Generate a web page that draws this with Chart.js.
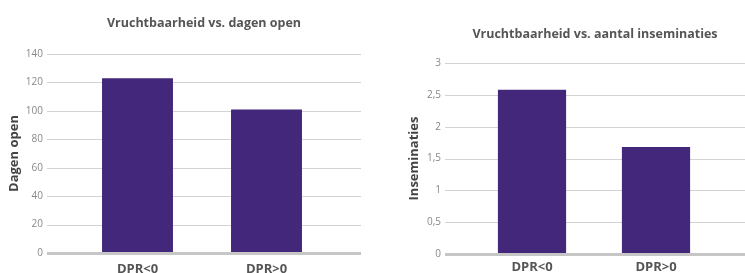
<!DOCTYPE html>
<html>
<head>
<meta charset="utf-8">
<script src="https://cdn.jsdelivr.net/npm/chart.js@4"></script>
<style>
    html, body { margin: 0; padding: 0; background: #fff; }
    canvas { position: absolute; top: 0; }
    #openChart { left: 0; }
    #insemChart { left: 372px; }
</style>
</head>
<body>
<canvas id="openChart" width="372" height="273"></canvas>
<canvas id="insemChart" width="373" height="273"></canvas>
<script>
// data
const groups = ["DPR<0", "DPR>0"];
const daysOpen = [123, 101];
const inseminations = [2.58, 1.68];
const daysTicks = [0, 20, 40, 60, 80, 100, 120, 140];
const insemTicks = [0, 0.5, 1, 1.5, 2, 2.5, 3];

const barColor = "#43277a";
const fontFamily = "'Open Sans', sans-serif";

// grid lines that run past the plot area, plus a heavier zero line and a centred title
const wideGrid = {
    id: "wideGrid",
    beforeDatasetsDraw(chart, args, opts) {
        const ctx = chart.ctx;
        const y = chart.scales.y;
        const x0 = chart.chartArea.left - opts.extLeft;
        const x1 = chart.chartArea.right + opts.extRight;
        ctx.save();
        y.ticks.forEach(t => {
            if (t.value === 0) return;
            const py = Math.round(y.getPixelForValue(t.value)) + 0.5;
            ctx.strokeStyle = "#d3d3d3";
            ctx.lineWidth = 1;
            ctx.beginPath();
            ctx.moveTo(x0, py);
            ctx.lineTo(x1, py);
            ctx.stroke();
        });
        ctx.restore();
    },
    afterDatasetsDraw(chart, args, opts) {
        const ctx = chart.ctx;
        const y = chart.scales.y;
        const x0 = chart.chartArea.left - opts.extLeft;
        const x1 = chart.chartArea.right + opts.extRight;
        const py = y.getPixelForValue(0);
        ctx.save();
        ctx.strokeStyle = "#c6c6c6";
        ctx.lineWidth = 3;
        ctx.beginPath();
        ctx.moveTo(x0, py + 0.5);
        ctx.lineTo(x1, py + 0.5);
        ctx.stroke();
        // title centred over the grid
        ctx.fillStyle = "#555";
        ctx.font = "bold 12.5px " + fontFamily;
        ctx.textAlign = "center";
        ctx.textBaseline = "alphabetic";
        ctx.fillText(opts.title, (x0 + x1) / 2, opts.titleY);
        ctx.restore();
    }
};

function makeChart(canvasId, values, tickValues, cfg) {
    const ctx = document.getElementById(canvasId).getContext("2d");
    return new Chart(ctx, {
        type: "bar",
        data: {
            labels: groups,
            datasets: [{
                data: values,
                backgroundColor: barColor,
                barPercentage: 0.55,
                categoryPercentage: 1
            }]
        },
        options: {
            responsive: false,
            animation: false,
            layout: { padding: { top: cfg.top, right: cfg.right, left: 0, bottom: 0 } },
            plugins: {
                legend: { display: false },
                tooltip: { enabled: false },
                wideGrid: { extLeft: cfg.extLeft, extRight: cfg.extRight, title: cfg.title, titleY: cfg.titleY }
            },
            scales: {
                x: {
                    grid: { display: false, drawTicks: false },
                    border: { display: false },
                    ticks: {
                        padding: cfg.xPad,
                        color: "#555",
                        font: { family: fontFamily, size: 13, weight: "bold" }
                    },
                    afterFit(scale) { scale.height = cfg.xHeight; }
                },
                y: {
                    min: 0,
                    max: tickValues[tickValues.length - 1],
                    afterBuildTicks(scale) { scale.ticks = tickValues.map(v => ({ value: v })); },
                    // tick marks are transparent; they only push the labels left
                    grid: { color: "rgba(0,0,0,0)", drawOnChartArea: false, drawTicks: true, tickLength: cfg.extLeft },
                    border: { display: false },
                    ticks: {
                        padding: 4,
                        color: "#888",
                        font: { family: fontFamily, size: 10 },
                        callback: v => String(v).replace(".", ",")
                    },
                    title: {
                        display: true,
                        text: cfg.yTitle,
                        color: "#444",
                        font: { family: fontFamily, size: 13, weight: "bold" },
                        padding: { top: cfg.yTitlePad, bottom: 0 }
                    },
                    afterFit(scale) { scale.width = cfg.yWidth; }
                }
            }
        },
        plugins: [wideGrid]
    });
}

makeChart("openChart", daysOpen, daysTicks, {
    title: "Vruchtbaarheid vs. dagen open", titleY: 27,
    yTitle: "Dagen open", yTitlePad: 6,
    top: 54, right: 41, xHeight: 20, yWidth: 73, xPad: 8,
    extLeft: 26, extRight: 30
});

makeChart("insemChart", inseminations, insemTicks, {
    title: "Vruchtbaarheid vs. aantal inseminaties", titleY: 38,
    yTitle: "Inseminaties", yTitlePad: 34,
    top: 63, right: 27, xHeight: 19, yWidth: 98, xPad: 5,
    extLeft: 25, extRight: 27
});
</script>
</body>
</html>
